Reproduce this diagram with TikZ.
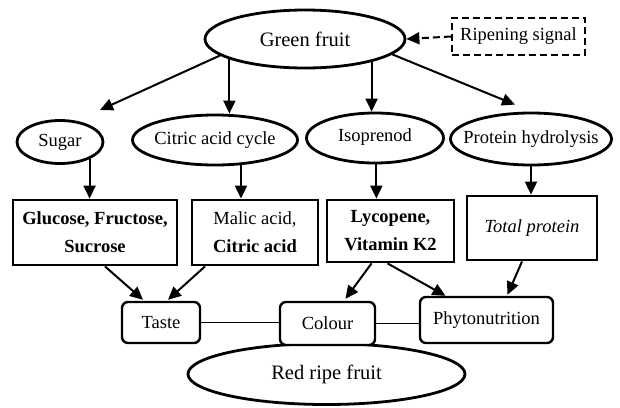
\documentclass[tikz,border=0pt]{standalone}
\usepackage{fontspec}
\setmainfont{Liberation Serif}
\usetikzlibrary{shapes.geometric,arrows.meta,calc}
\begin{document}
\begin{tikzpicture}[x=1pt,y=-1pt,
  every node/.style={font=\fontsize{18.5}{28}\selectfont},
  big/.style={font=\fontsize{20.5}{24}\selectfont},
  ell/.style={draw, ellipse, line width=2.8pt, inner sep=0pt, fill=white},
  bx/.style={draw, rectangle, line width=2.8pt, inner sep=0pt, align=center},
  rbx/.style={draw, rectangle, rounded corners=6pt, line width=2.4pt, inner sep=0pt, fill=white},
  arr/.style={line width=2pt, -{Triangle[length=13pt,width=12pt]}},
  conn/.style={line width=1.6pt},
  sig/.style={draw, dashed, dash pattern=on 7pt off 4pt, line width=2.2pt, inner sep=0pt}
]
\useasboundingbox (0,0) rectangle (620,407);

% top
\node[ell, big, minimum width=200pt, minimum height=58pt] (gf) at (305,39) {\makebox[0pt]{Green fruit}};
\node[sig, minimum width=133pt, minimum height=37pt] (rs) at (518.5,36.5) {Ripening signal};

% pathways
\node[ell, minimum width=86pt, minimum height=43pt] (sugar) at (60,142) {\makebox[0pt]{Sugar}};
\node[ell, minimum width=165pt, minimum height=50pt] (citric) at (215,140) {\makebox[0pt]{Citric acid cycle}};
\node[ell, minimum width=137pt, minimum height=50pt] (iso) at (375,138) {\makebox[0pt]{\raisebox{6pt}{Isoprenod}}};
\node[ell, minimum width=161pt, minimum height=52pt] (prot) at (531,139) {\makebox[0pt]{Protein hydrolysis}};

% products
\node[bx, minimum width=164pt, minimum height=65pt] (glu) at (95,232.5) {\textbf{Glucose, Fructose,}\\\textbf{Sucrose}};
\node[bx, minimum width=126pt, minimum height=65pt] (mal) at (255,232.5) {Malic acid,\\\textbf{Citric acid}};
\node[bx, minimum width=127pt, minimum height=62pt] (lyc) at (390.5,231) {\textbf{Lycopene,}\\\textbf{Vitamin K2}};
\node[bx, minimum width=130pt, minimum height=64pt] (tp) at (532,228) {\textit{Total protein}};

% bottom
\node[ell, big, minimum width=277pt, minimum height=61pt] (red) at (326.5,374) {\makebox[0pt]{Red ripe fruit}};
\node[rbx, minimum width=78pt, minimum height=41pt] (taste) at (161,322.5) {Taste};
\node[rbx, minimum width=95pt, minimum height=43pt] (colour) at (327.5,323.5) {Colour};
\node[rbx, minimum width=133pt, minimum height=46pt] (phyto) at (486.5,320) {Phytonutrition};

% connectors
\draw[arr, dashed, dash pattern=on 7pt off 4pt] (rs.west) -- (gf.east);
\draw[arr] (gf.191) -- ($(sugar.center)+(40,-32)$);
\draw[arr] (gf.195) -- (gf.195 |- citric.north);
\draw[arr] (gf.-19) -- (gf.-19 |- iso.north);
\draw[arr] (gf.-10) -- ($(prot.north)+(-16,-7)$);

\draw[arr] (sugar.-30) -- (sugar.-30 |- glu.north);
\draw[arr] (citric.-44) -- (citric.-44 |- mal.north);
\draw[arr] (iso.-87) -- (iso.-87 |- lyc.north);
\draw[arr] (prot.south) -- (prot.south |- tp.north);

\draw[arr] ($(glu.south)+(10,0)$) -- ($(taste.north)+(-18,-1)$);
\draw[arr] ($(mal.south)+(-50,0)$) -- ($(taste.north)+(7,-1)$);
\draw[arr] ($(lyc.south)+(-19,0)$) -- ($(colour.north)+(18,-2)$);
\draw[arr] ($(lyc.south)+(-3,0)$) -- ($(phyto.north)+(-41,0)$);
\draw[arr] ($(tp.south)+(-10,0)$) -- ($(phyto.north)+(21,-1)$);

\draw[conn] (taste.east) -- (taste.east -| colour.west);
\draw[conn] (colour.east) -- (colour.east -| phyto.west);
\end{tikzpicture}
\end{document}
